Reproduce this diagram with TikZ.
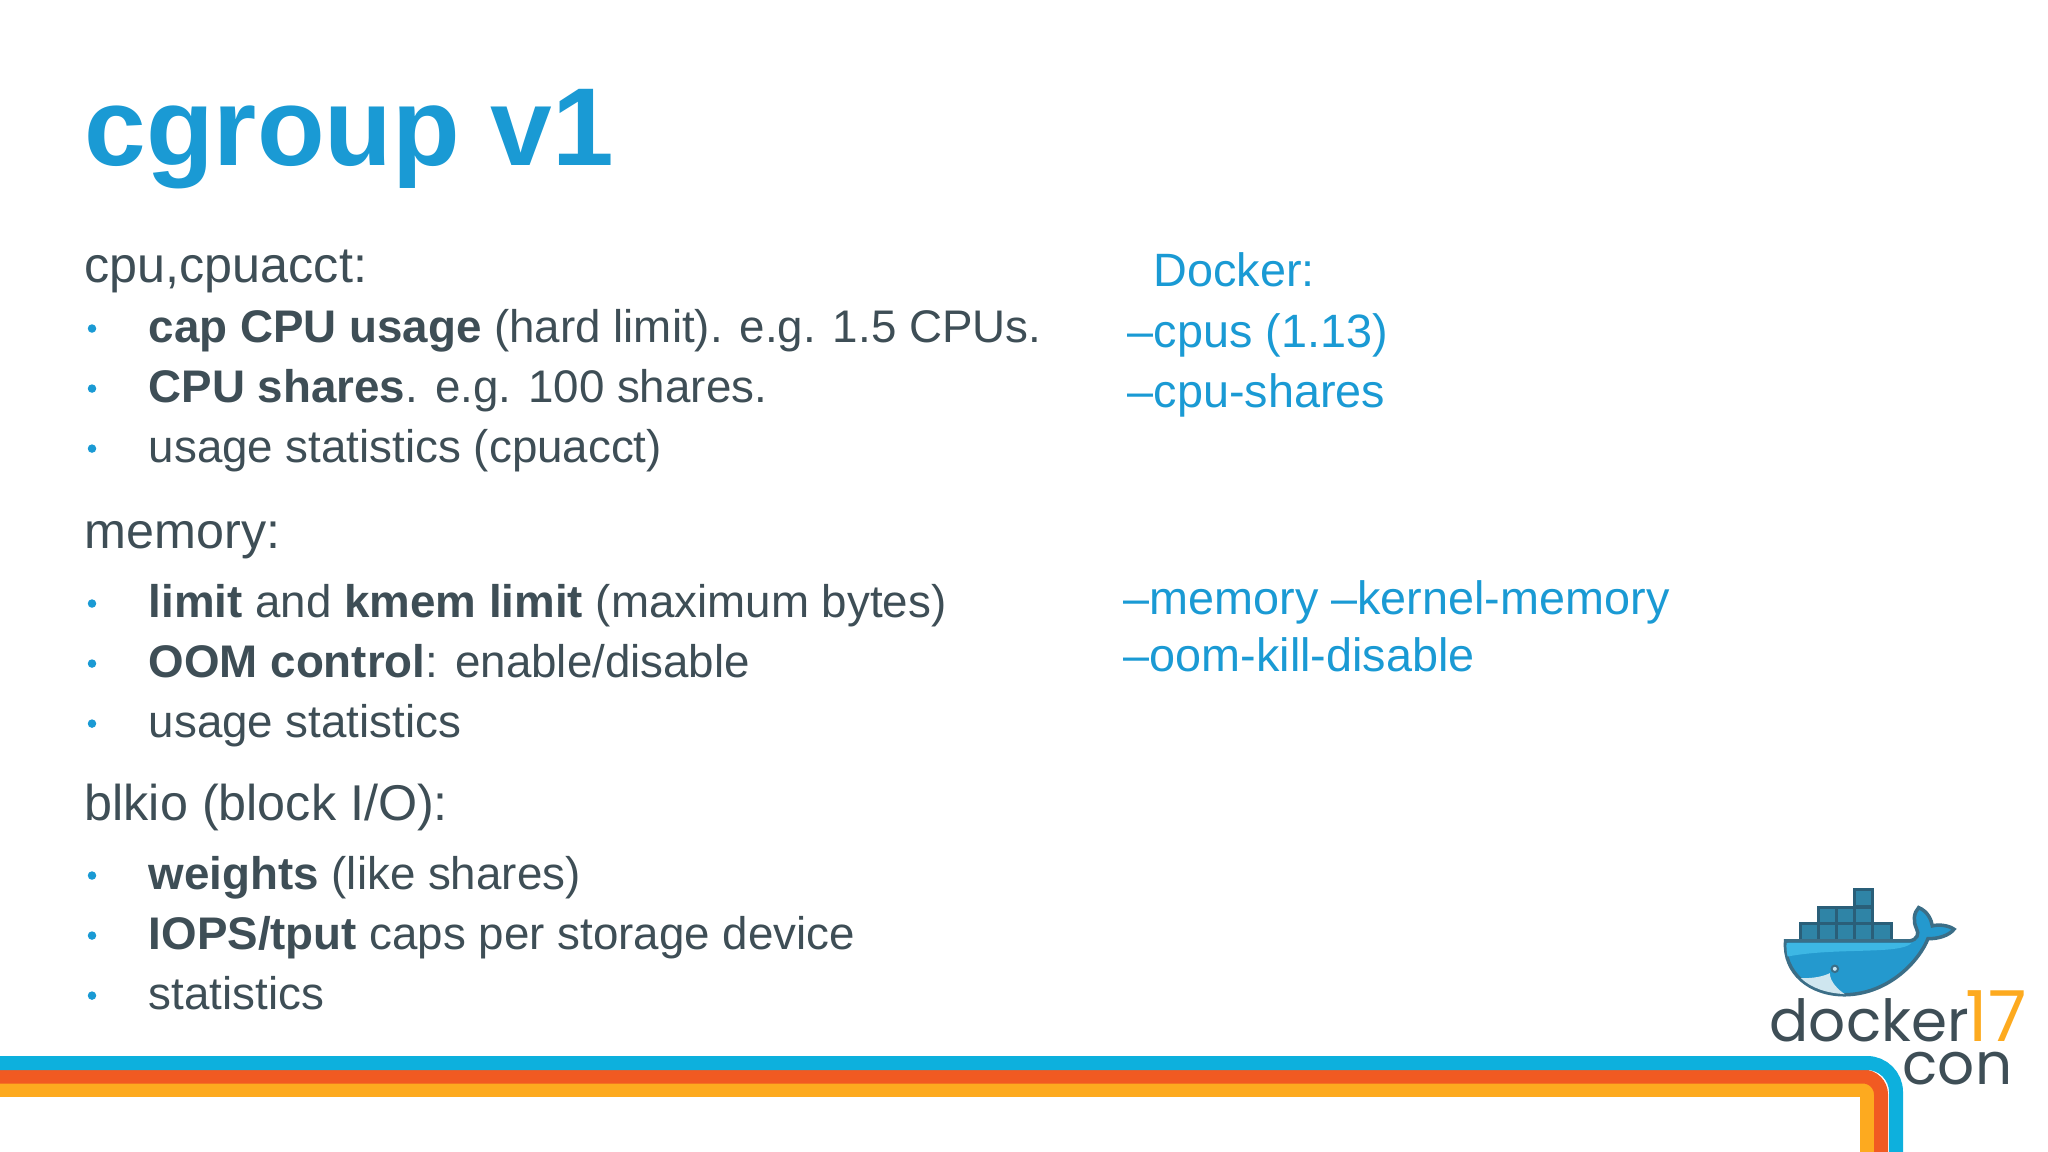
\documentclass[tikz,border=0pt]{standalone}
\usepackage{fontspec}
\setmainfont{Liberation Sans}
\newfontfamily\logofont{Poppins}
\usepackage{tikz}
\usetikzlibrary{positioning}

\definecolor{titleblue}{HTML}{1A9AD4}
\definecolor{slate}{HTML}{3E4E56}
\definecolor{stripeblue}{HTML}{0DB0DD}
\definecolor{stripered}{HTML}{F15A22}
\definecolor{stripeorange}{HTML}{FDAA1F}
\definecolor{whalelight}{HTML}{3DB7E4}
\definecolor{whaleblue}{HTML}{2499CE}
\definecolor{whaleline}{HTML}{3B6E87}
\definecolor{boxblue}{HTML}{2F84A6}
\definecolor{boxline}{HTML}{2A5F79}
\definecolor{bellyblue}{HTML}{CFE6EF}

\tikzset{
	titletext/.style={anchor=base west, inner sep=0pt, text=titleblue, font=\fontsize{31.5}{36}\selectfont\bfseries},
	headtext/.style={anchor=base west, inner sep=0pt, text=slate, font=\fontsize{14.3}{17}\selectfont},
	itemtext/.style={anchor=base west, inner sep=0pt, text=slate, font=\fontsize{13}{16}\selectfont},
	flagtext/.style={anchor=base west, inner sep=0pt, text=titleblue, font=\fontsize{13.3}{16}\selectfont},
	bulletdot/.style={circle, fill=titleblue, inner sep=0pt, minimum size=0.085cm},
	logotext/.style={anchor=base west, inner sep=0pt, text=slate, font=\logofont\fontsize{16.5}{18}\selectfont},
	stripe/.style={line width=0.14cm}
}

\begin{document}
\begin{tikzpicture}[x=0.01cm, y=-0.01cm]
	\useasboundingbox (0,0) rectangle (2048,1152);
	\fill[white] (0,0) rectangle (2048,1152);

	\node (title) [titletext] at (84,166) {cgroup v1};

	\node (cpuhead) [headtext] at (84,283) {cpu,cpuacct:};
	\node (cpucap) [itemtext, below=0.59cm of cpuhead.base west, anchor=base west, xshift=0.64cm] {\textbf{cap CPU usage} (hard limit). e.g. 1.5 CPUs.};
	\node (cpushares) [itemtext, below=0.6cm of cpucap.base west, anchor=base west] {\textbf{CPU shares}. e.g. 100 shares.};
	\node (cpustats) [itemtext, below=0.6cm of cpushares.base west, anchor=base west] {usage statistics (cpuacct)};

	\node (memhead) [headtext] at (84,549) {memory:};
	\node (memlimit) [itemtext, below=0.68cm of memhead.base west, anchor=base west, xshift=0.64cm] {\textbf{limit} and \textbf{kmem limit} (maximum bytes)};
	\node (memoom) [itemtext, below=0.6cm of memlimit.base west, anchor=base west] {\textbf{OOM control}: enable/disable};
	\node (memstats) [itemtext, below=0.6cm of memoom.base west, anchor=base west] {usage statistics};

	\node (blkhead) [headtext] at (84,820) {blkio (block I/O):};
	\node (blkweights) [itemtext, below=0.69cm of blkhead.base west, anchor=base west, xshift=0.64cm] {\textbf{weights} (like shares)};
	\node (blkiops) [itemtext, below=0.6cm of blkweights.base west, anchor=base west] {\textbf{IOPS/tput} caps per storage device};
	\node (blkstats) [itemtext, below=0.6cm of blkiops.base west, anchor=base west] {statistics};

	\foreach \line in {cpucap,cpushares,cpustats,memlimit,memoom,memstats,blkweights,blkiops,blkstats}
		\node (dot-\line) [bulletdot] at ([xshift=-0.56cm, yshift=0.135cm]\line.base west) {};

	\node (docker) [flagtext] at (1153,287) {Docker:};
	\node (flagcpus) [flagtext, below=0.6cm of docker.base west, anchor=base west, xshift=-0.26cm] {--cpus (1.13)};
	\node (flagshares) [flagtext, below=0.6cm of flagcpus.base west, anchor=base west] {--cpu-shares};
	\node (flagmem) [flagtext] at (1123,614) {--memory --kernel-memory};
	\node (flagoom) [flagtext, below=0.57cm of flagmem.base west, anchor=base west] {--oom-kill-disable};

	\draw[stripe, stripeorange] (0,1090) -- (1867,1090) [rounded corners=0.07cm] -- (1867,1090) -- (1867,1152);
	\draw[stripe, stripered, rounded corners=0.18cm] (0,1076.5) -- (1881,1076.5) -- (1881,1152);
	\draw[stripe, stripeblue, rounded corners=0.29cm] (0,1063) -- (1896,1063) -- (1896,1152);

	\begin{scope}[shift={(1720,860)}, x=0.00333cm, y=-0.00333cm]
		\foreach \col/\row in {403/88, 295/143, 349/143, 403/143, 242/190, 296/190, 350/190, 404/190, 458/190}
			\draw[boxline, fill=boxblue, line width=0.03cm] (\col,\row) rectangle ++(56,53);
		\draw[whaleline, fill=whaleblue, line width=0.035cm]
			(197,243) -- (570,243)
			.. controls (592,240) and (600,222) .. (590,205)
			.. controls (580,185) and (582,158) .. (597,143)
			.. controls (625,155) and (635,180) .. (638,198)
			.. controls (660,192) and (690,198) .. (703,208)
			.. controls (690,226) and (655,238) .. (625,236)
			.. controls (600,300) and (510,403) .. (375,405)
			.. controls (270,405) and (190,340) .. (197,243) -- cycle;
		\fill[whalelight]
			(200,250) -- (575,250)
			.. controls (540,285) and (350,262) .. (203,290)
			.. controls (200,275) and (199,262) .. (200,250) -- cycle;
		\fill[bellyblue]
			(243,355) .. controls (280,356) and (310,350) .. (330,340)
			.. controls (330,365) and (355,390) .. (375,403)
			.. controls (320,400) and (275,385) .. (243,355) -- cycle;
		\fill[whaleline] (345,327) circle (13);
		\fill[white!75!whaleblue] (345,327) circle (6);
	\end{scope}

	\node (logodocker) [logotext] at (1769,1041) {docker};
	\node (logoseventeen) [logotext, text=stripeorange, font=\logofont\fontsize{20}{22}\selectfont] at (1965,1041) {17};
	\node (logocon) [logotext] at (1902,1084) {con};
\end{tikzpicture}
\end{document}
